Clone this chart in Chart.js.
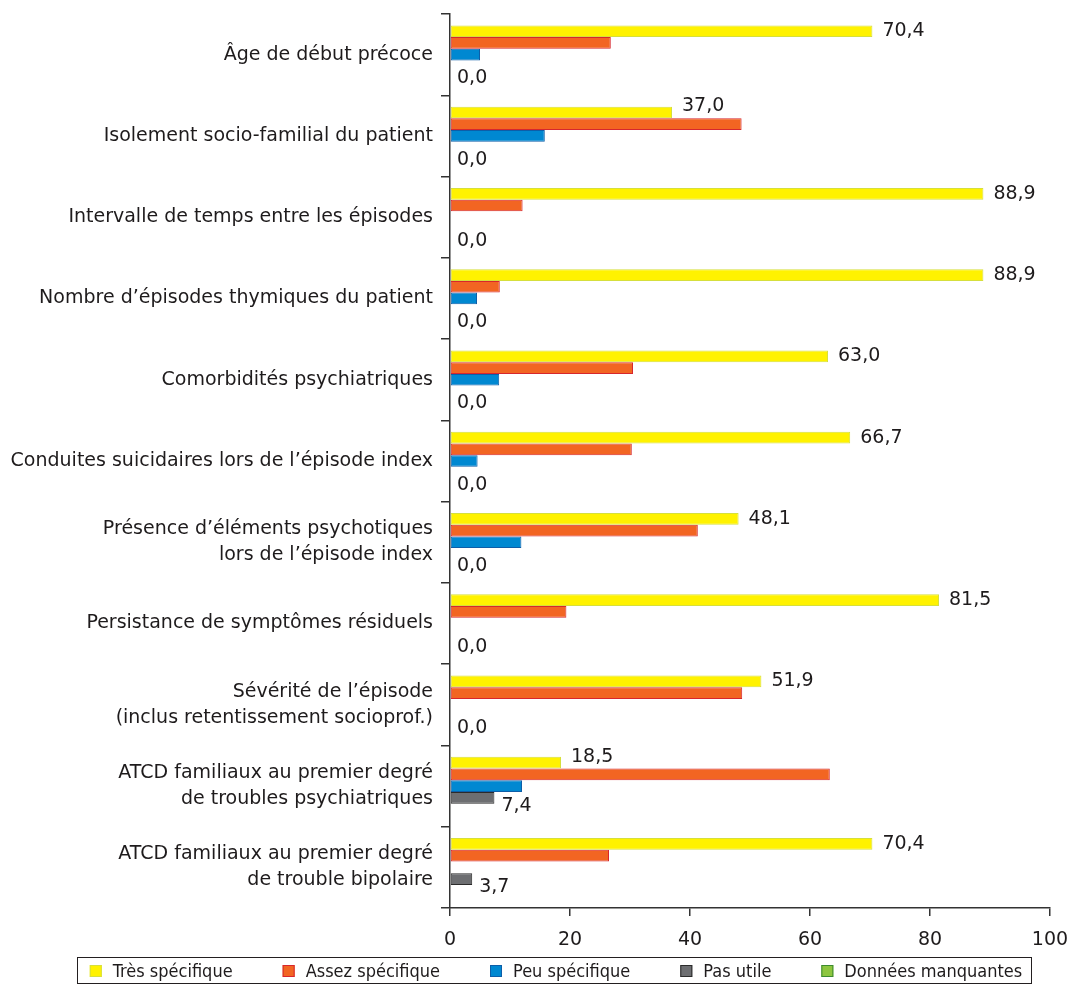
<!DOCTYPE html>
<html>
<head>
<meta charset="utf-8">
<script src="https://cdn.jsdelivr.net/npm/chart.js@4"></script>
<style>
  body { margin: 0; background: #fff; }
  #wrap { width: 1071px; height: 985px; }
</style>
</head>
<body>
<div id="wrap"><canvas id="chart" width="1071" height="985"></canvas></div>
<script>
const categories = [
  "Âge de début précoce",
  "Isolement socio-familial du patient",
  "Intervalle de temps entre les épisodes",
  "Nombre d’épisodes thymiques du patient",
  "Comorbidités psychiatriques",
  "Conduites suicidaires lors de l’épisode index",
  ["Présence d’éléments psychotiques", "lors de l’épisode index"],
  "Persistance de symptômes résiduels",
  ["Sévérité de l’épisode", "(inclus retentissement socioprof.)"],
  ["ATCD familiaux au premier degré", "de troubles psychiatriques"],
  ["ATCD familiaux au premier degré", "de trouble bipolaire"]
];
const tresSpecifique = [70.4, 37.0, 88.9, 88.9, 63.0, 66.7, 48.1, 81.5, 51.9, 18.5, 70.4];
const assezSpecifique = [26.8, 48.6, 12.1, 8.3, 30.5, 30.3, 41.3, 19.4, 48.7, 63.3, 26.5];
const peuSpecifique = [5.0, 15.8, 0, 4.5, 8.2, 4.6, 11.9, 0, 0, 12.0, 0];
const pasUtile = [0, 0, 0, 0, 0, 0, 0, 0, 0, 7.4, 3.7];
const donneesManquantes = [0, 0, 0, 0, 0, 0, 0, 0, 0, 0, 0];
const xTicks = [0, 20, 40, 60, 80, 100];

const fontFam = "'DejaVu Sans', sans-serif";
const legendFam = "'DejaVu Sans Condensed', 'DejaVu Sans', sans-serif";
const textColor = "#1e1b1c";

function fmt(v) {
  return v.toFixed(1).replace(".", ",");
}

// value labels for the yellow and grey series
const valueLabels = {
  id: "valueLabels",
  afterDatasetsDraw(chart) {
    const ctx = chart.ctx;
    ctx.save();
    ctx.font = "19px " + fontFam;
    ctx.fillStyle = textColor;
    ctx.textAlign = "left";
    ctx.textBaseline = "middle";
    [0, 3].forEach(function (di) {
      const meta = chart.getDatasetMeta(di);
      const data = chart.data.datasets[di].data;
      meta.data.forEach(function (bar, i) {
        let y = bar.y;
        if (di === 0 && assezSpecifique[i] > data[i]) y -= 6;
        if (di === 3) y += data[i] === 0 ? 12 : 8;
        const x = bar.x + (di === 0 ? 10 : 7);
        ctx.fillText(fmt(data[i]), x, y);
      });
    });
    ctx.restore();
  }
};

// legend drawn by hand so the item spacing can be set apart from its height
const boxedLegend = {
  id: "boxedLegend",
  afterDraw(chart) {
    const ctx = chart.ctx;
    const sets = chart.data.datasets;
    const gap = 50, box = 12, textGap = 11;
    ctx.save();
    ctx.font = "18px " + legendFam;
    const widths = sets.map(ds => box + textGap + ctx.measureText(ds.label).width);
    const total = widths.reduce((a, b) => a + b, 0) + gap * (sets.length - 1);
    const center = 556;
    const yMid = chart.height - 14;
    let x = center - total / 2;
    const start = x;
    ctx.textBaseline = "middle";
    ctx.textAlign = "left";
    sets.forEach(function (ds, i) {
      ctx.fillStyle = ds.backgroundColor;
      ctx.fillRect(x, yMid - box / 2, box, box);
      ctx.strokeStyle = ds.borderColor;
      ctx.lineWidth = 1;
      ctx.strokeRect(x + 0.5, yMid - box / 2 + 0.5, box - 1, box - 1);
      ctx.fillStyle = textColor;
      ctx.fillText(ds.label, x + box + textGap, yMid + 1);
      x += widths[i] + gap;
    });
    const end = x - gap;
    ctx.strokeStyle = "#231f20";
    ctx.strokeRect(Math.round(start - 13) + 0.5, yMid - 13.5, Math.round(end - start + 22), 26);
    ctx.restore();
  }
};

new Chart(document.getElementById("chart").getContext("2d"), {
  type: "bar",
  data: {
    labels: categories,
    datasets: [
      { label: "Très spécifique", data: tresSpecifique, backgroundColor: "#fff200", borderColor: "#d6df3c" },
      { label: "Assez spécifique", data: assezSpecifique, backgroundColor: "#f26522", borderColor: "#d7262d" },
      { label: "Peu spécifique", data: peuSpecifique, backgroundColor: "#0088d1", borderColor: "#0d5ea8" },
      { label: "Pas utile", data: pasUtile, backgroundColor: "#6d6e71", borderColor: "#2b2b2b" },
      { label: "Données manquantes", data: donneesManquantes, backgroundColor: "#8dc63f", borderColor: "#3c8a30" }
    ]
  },
  options: {
    indexAxis: "y",
    responsive: false,
    animation: false,
    datasets: {
      bar: { categoryPercentage: 0.72, barPercentage: 1, borderWidth: 1, borderSkipped: false }
    },
    layout: { padding: { top: 14, right: 21, left: 0, bottom: 35 } },
    scales: {
      x: {
        min: 0,
        max: 100,
        afterBuildTicks: function (s) { s.ticks = xTicks.map(v => ({ value: v })); },
        afterFit: function (s) {
          s.height = 42;
          s.paddingLeft = 0;
          s.paddingRight = 0;
        },
        border: { color: "#333", width: 1.5 },
        grid: { drawOnChartArea: false, tickLength: 8, color: "#333", lineWidth: 1.5 },
        ticks: { color: textColor, font: { size: 19, family: fontFam }, padding: 13 }
      },
      y: {
        afterFit: function (s) {
          s.width = 450;
          s.paddingTop = 0;
          s.paddingBottom = 0;
        },
        border: { color: "#333", width: 1.5 },
        grid: { drawOnChartArea: false, tickLength: 9, color: "#333", lineWidth: 1.5 },
        ticks: { color: textColor, font: { size: 19, family: fontFam, lineHeight: 1.37 }, padding: 8 }
      }
    },
    plugins: {
      legend: { display: false },
      tooltip: { enabled: false }
    }
  },
  plugins: [valueLabels, boxedLegend]
});
</script>
</body>
</html>
